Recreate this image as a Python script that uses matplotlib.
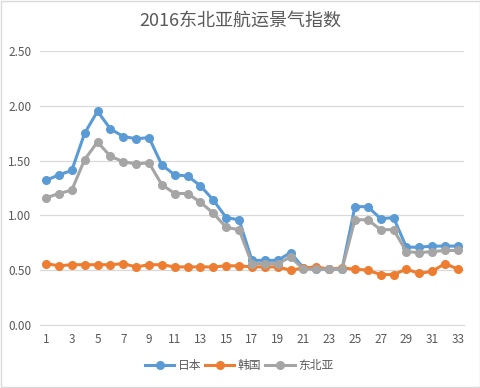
import matplotlib
matplotlib.use("Agg")
import matplotlib.pyplot as plt
from matplotlib.patches import Rectangle

plt.rcParams["font.family"] = ["Noto Sans CJK SC", "DejaVu Sans"]

weeks = list(range(1, 34))
japan = [1.32, 1.37, 1.41, 1.75, 1.95, 1.79, 1.72, 1.70, 1.71, 1.46,
         1.37, 1.36, 1.27, 1.14, 0.98, 0.96, 0.59, 0.59, 0.59, 0.66,
         0.52, 0.51, 0.51, 0.51, 1.08, 1.08, 0.97, 0.98, 0.71, 0.71,
         0.72, 0.72, 0.72]
korea = [0.56, 0.54, 0.55, 0.55, 0.55, 0.55, 0.56, 0.53, 0.55, 0.55,
         0.53, 0.53, 0.53, 0.53, 0.54, 0.54, 0.53, 0.53, 0.53, 0.50,
         0.52, 0.53, 0.51, 0.52, 0.51, 0.50, 0.46, 0.46, 0.51, 0.47,
         0.49, 0.56, 0.51]
northeast_asia = [1.16, 1.20, 1.23, 1.51, 1.67, 1.54, 1.49, 1.47, 1.48, 1.28,
                  1.20, 1.20, 1.12, 1.02, 0.89, 0.87, 0.56, 0.56, 0.56, 0.62,
                  0.51, 0.51, 0.51, 0.51, 0.96, 0.96, 0.87, 0.87, 0.67, 0.66,
                  0.67, 0.68, 0.68]
series = [("日本", japan, "#5B9BD5"), ("韩国", korea, "#ED7D31"),
          ("东北亚", northeast_asia, "#A5A5A5")]

fig = plt.figure(figsize=(4.81, 3.88), dpi=100)
ax = fig.add_axes([0.0823, 0.1624, 0.883, 0.706])

for name, vals, color in series:
    ax.plot(weeks, vals, color=color, lw=2.2, marker="o", ms=5.5, label=name)

ax.set_xlim(0.5, 33.5)
ax.set_ylim(0, 2.5)
ax.set_yticks([0, 0.5, 1.0, 1.5, 2.0, 2.5])
ax.set_yticklabels([f"{v:.2f}" for v in [0, 0.5, 1.0, 1.5, 2.0, 2.5]])
ax.set_xticks(weeks[::2])
ax.set_xticklabels([str(w) for w in weeks[::2]])
ax.tick_params(length=0, labelsize=8.5, labelcolor="#595959", pad=6)
ax.grid(axis="y", color="#D9D9D9", lw=0.9)
ax.set_axisbelow(True)
for side in ["left", "right", "top"]:
    ax.spines[side].set_visible(False)
ax.spines["bottom"].set_color("#D9D9D9")

fig.text(0.5, 0.948, "2016东北亚航运景气指数", ha="center", va="center",
         fontsize=13, color="#595959")
fig.legend(loc="center", bbox_to_anchor=(0.497, 0.058), ncol=3, frameon=False,
           fontsize=8.5, labelcolor="#595959", handlelength=2.5,
           handletextpad=0.3, columnspacing=0.3)
fig.patches.append(Rectangle((0.002, 0.002), 0.996, 0.996, transform=fig.transFigure,
                             fill=False, edgecolor="#D9D9D9", lw=1))

fig.savefig("out.png", dpi=100)
